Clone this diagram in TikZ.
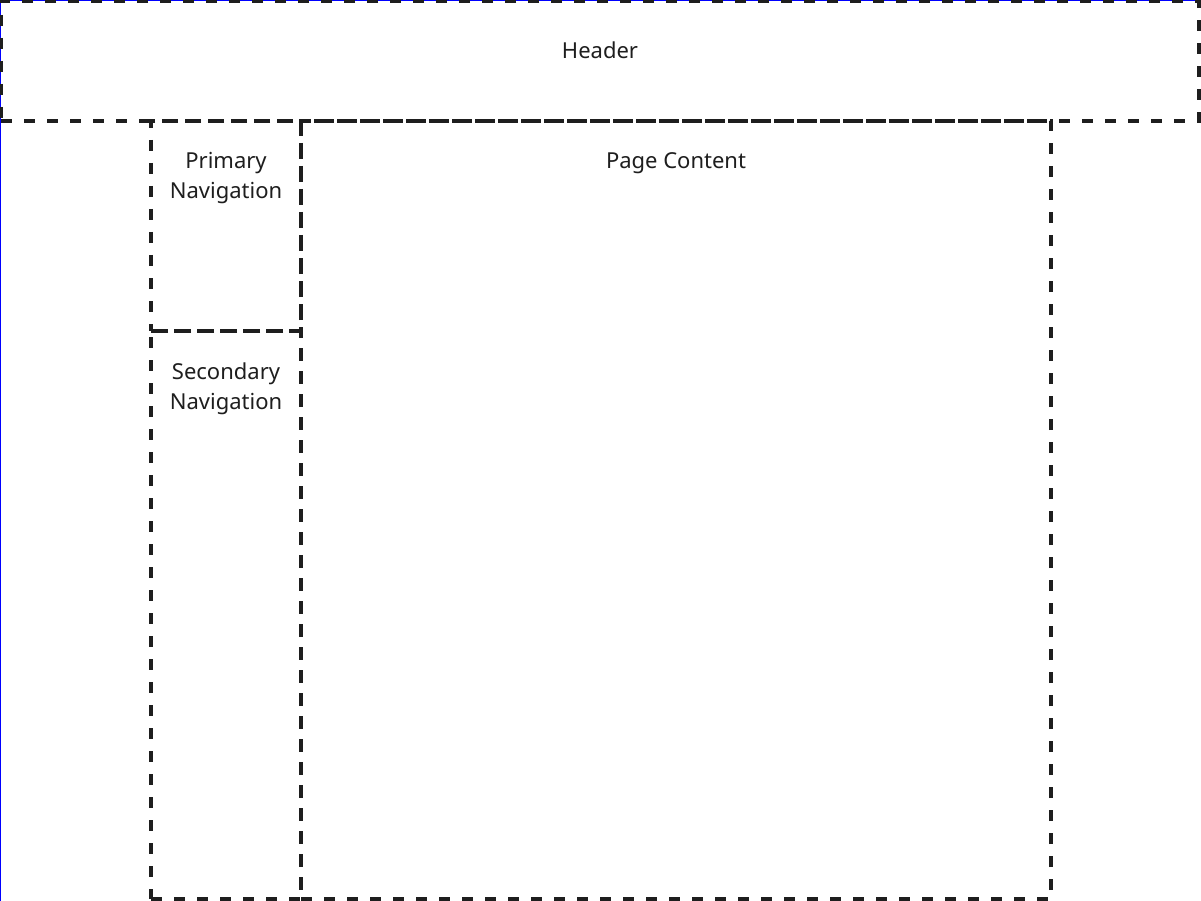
\documentclass[tikz,border=0pt]{standalone}
\usepackage{fontspec}
\setmainfont{Noto Sans}
\usetikzlibrary{calc}
\definecolor{inkgray}{HTML}{1E1E1E}
\tikzset{
	zone/.style={draw=inkgray, line width=4.3pt, dash pattern=on 11pt off 12pt, rectangle, inner sep=0pt, outer sep=0pt},
	caption/.style={text=inkgray, font=\fontsize{22}{30}\selectfont, align=center, inner sep=0pt, anchor=base}
}

\begin{document}
\begin{tikzpicture}[x=1pt, y=-1pt]
			%%%%% START %%%%%
			\useasboundingbox (0, 0) rectangle (1201, 901);
			\fill[white] (0, 0) rectangle (1201, 901);
			\draw[blue, line width=1pt] (0.5, 901) -- (0.5, 0.5) -- (1201, 0.5);
			
			\node[zone, minimum width=1198pt, minimum height=120pt] (header) at (600, 61) {};
			\node[zone, minimum width=150pt, minimum height=210pt] (primnav) at (226, 226) {};
			\node[zone, minimum width=150pt, minimum height=568pt] (secnav) at (226, 615) {};
			\node[zone, minimum width=750pt, minimum height=778pt] (content) at (676, 510) {};
			
			% base anchor sits on the last line
			\node[caption] (headertxt) at ($(header.north)+(0, 58)$) {Header};
			\node[caption] (primtxt) at ($(primnav.north)+(0, 78)$) {Primary\\Navigation};
			\node[caption] (sectxt) at ($(secnav.north)+(0, 78)$) {Secondary\\Navigation};
			\node[caption] (contenttxt) at ($(content.north)+(0, 48)$) {Page Content};
			%%%%% END %%%%%
\end{tikzpicture}
\end{document}
